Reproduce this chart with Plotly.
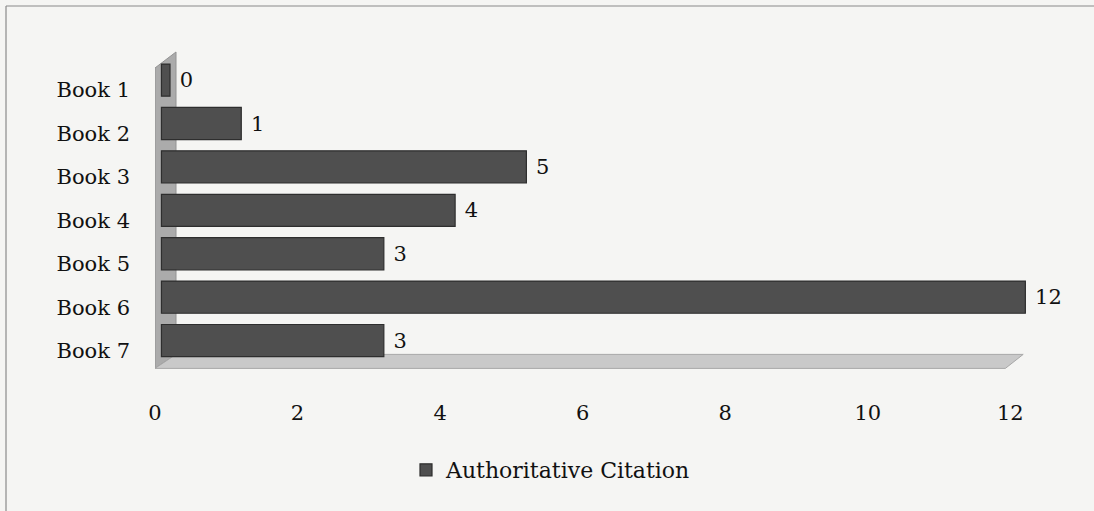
import plotly.graph_objects as go

# Chart data
books = ["Book 1", "Book 2", "Book 3", "Book 4", "Book 5", "Book 6", "Book 7"]
citations = [0, 1, 5, 4, 3, 12, 3]
series_name = "Authoritative Citation"
x_ticks = [0, 2, 4, 6, 8, 10, 12]

# Page geometry (pixels)
W, H = 1094, 511
L, R, T, B = 155, 48, 48, 117
plot_w = W - L - R
plot_h = H - T - B

X_MAX = 12.5
Y_TOP, Y_BOT = -0.97, 7.0
px_per_x = plot_w / X_MAX
px_per_y = plot_h / (Y_BOT - Y_TOP)

# Perspective offset of the bars (drawn "behind" the floor front edge)
SHIFT_X = 15 / px_per_x
SHIFT_Y = 10 / px_per_y
DEPTH_BASE = -0.12  # bar end-cap depth, visible even for zero values

FONT = "DejaVu Serif"
BAR_COLOR = "#4f4f4f"
BAR_EDGE = "#2e2e2e"

fig = go.Figure()

fig.add_trace(go.Bar(
    y=books,
    x=[v - DEPTH_BASE for v in citations],
    base=DEPTH_BASE,
    orientation="h",
    name=series_name,
    xaxis="x2",
    yaxis="y2",
    marker=dict(color=BAR_COLOR, line=dict(color=BAR_EDGE, width=1.2)),
    text=[str(v) for v in citations],
    texttemplate="\u00a0%{text}",
    textposition="outside",
    textfont=dict(family=FONT, size=21, color="#111111"),
    cliponaxis=False,
    constraintext="none",
    hoverinfo="skip",
))

# Floor (front) and back wall, expressed in the front axes' units
dx = 21 / px_per_x
dy = 14 / px_per_y
floor_front = 6.41
wall_top = -0.51
floor_path = (
    f"M 0 {floor_front} L {12 - 0.07} {floor_front} "
    f"L {12 + 0.18} {floor_front - dy} L {dx} {floor_front - dy} Z"
)
wall_path = (
    f"M 0 {floor_front} L 0 {wall_top} L {dx} {wall_top - 16 / px_per_y} "
    f"L {dx} {floor_front - dy} Z"
)

shapes = [
    dict(type="path", path=wall_path, xref="x", yref="y",
         fillcolor="#ababab", line=dict(color="#929292", width=1), layer="below"),
    dict(type="path", path=floor_path, xref="x", yref="y",
         fillcolor="#c9c9c9", line=dict(color="#a8a8a8", width=1), layer="below"),
]

# Outer frame (top and left edges)
def px_to_paper_x(px):
    return (px - L) / plot_w

def py_to_paper_y(py):
    return (H - B - py) / plot_h

shapes.append(dict(type="line", xref="paper", yref="paper",
                   x0=px_to_paper_x(6), x1=px_to_paper_x(W + 5),
                   y0=py_to_paper_y(6), y1=py_to_paper_y(6),
                   line=dict(color="#8a8a8a", width=1.2)))
shapes.append(dict(type="line", xref="paper", yref="paper",
                   x0=px_to_paper_x(6), x1=px_to_paper_x(6),
                   y0=py_to_paper_y(6), y1=py_to_paper_y(H + 5),
                   line=dict(color="#8a8a8a", width=1.2)))

fig.update_layout(
    width=W, height=H,
    margin=dict(l=L, r=R, t=T, b=B),
    paper_bgcolor="#f5f5f3",
    plot_bgcolor="rgba(0,0,0,0)",
    font=dict(family=FONT, size=21, color="#111111"),
    bargap=0.26,
    showlegend=True,
    legend=dict(
        orientation="h",
        x=px_to_paper_x(551), xanchor="center",
        y=py_to_paper_y(470), yanchor="middle",
        font=dict(family=FONT, size=22, color="#111111"),
        bgcolor="rgba(0,0,0,0)",
        itemwidth=30,
    ),
    xaxis=dict(
        range=[0, X_MAX],
        tickvals=x_ticks,
        showgrid=False, zeroline=False, showline=False,
        ticks="",
        tickfont=dict(family=FONT, size=21),
        ticklabelstandoff=4,
        fixedrange=True,
    ),
    yaxis=dict(
        range=[Y_BOT, Y_TOP],
        tickvals=list(range(len(books))),
        ticktext=books,
        showgrid=False, zeroline=False, showline=False,
        ticks="",
        tickfont=dict(family=FONT, size=21),
        ticklabelstandoff=24,
        fixedrange=True,
    ),
    xaxis2=dict(
        overlaying="x",
        range=[-SHIFT_X, X_MAX - SHIFT_X],
        anchor="y2",
        visible=False,
        fixedrange=True,
    ),
    yaxis2=dict(
        overlaying="y",
        range=[Y_BOT + SHIFT_Y, Y_TOP + SHIFT_Y],
        type="category",
        categoryorder="array",
        categoryarray=books,
        anchor="x2",
        visible=False,
        fixedrange=True,
    ),
    shapes=shapes,
)

fig.write_html("out.html", config={"displayModeBar": False})
